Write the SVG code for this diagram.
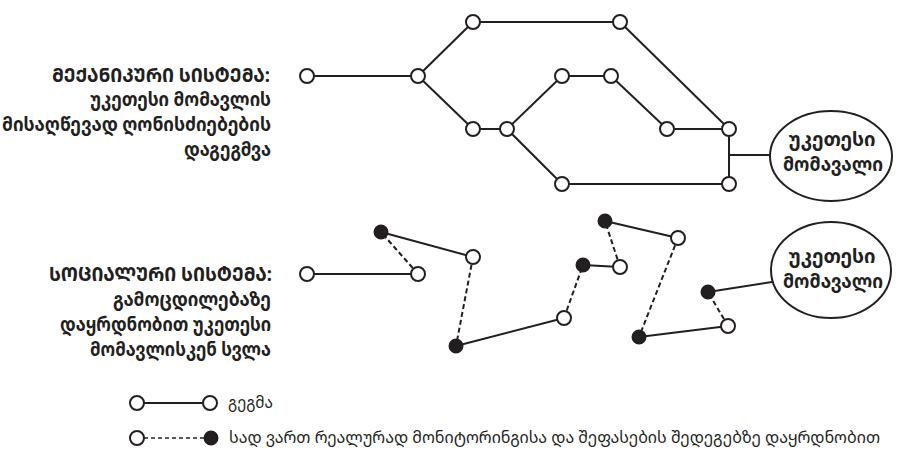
<svg xmlns="http://www.w3.org/2000/svg" width="899" height="454" viewBox="0 0 899 454">
<style>
.ln{stroke:#231f20;stroke-width:2;fill:none}
.ds{stroke:#231f20;stroke-width:2;fill:none;stroke-dasharray:5 3}
.o{fill:#fff;stroke:#231f20;stroke-width:2}
.f{fill:#231f20;stroke:#231f20;stroke-width:2}
.el{fill:#fff;stroke:#231f20;stroke-width:2}
.t{font-family:"Noto Sans Georgian","DejaVu Sans",sans-serif;fill:#231f20}
.h{font-size:19px;font-weight:bold;text-anchor:end}
.b{font-size:20px;font-weight:bold;text-anchor:end}
.e{font-size:19px;font-weight:bold;text-anchor:middle}
.lg{font-size:16px}
</style>
<rect width="899" height="454" fill="#fff"/>
<g id="label-mechanical" class="t">
<text class="h" x="270" y="82" textLength="218" lengthAdjust="spacingAndGlyphs">ᲛᲔᲥᲐᲜᲘᲙᲣᲠᲘ ᲡᲘᲡᲢᲔᲛᲐ:</text>
<text class="b" x="271" y="106" textLength="181" lengthAdjust="spacingAndGlyphs">უკეთესი მომავლის</text>
<text class="b" x="271" y="131" textLength="269" lengthAdjust="spacingAndGlyphs">მისაღწევად ღონისძიებების</text>
<text class="b" x="271" y="156" textLength="87" lengthAdjust="spacingAndGlyphs">დაგეგმვა</text>
</g>
<g id="label-social" class="t">
<text class="h" x="272" y="281" textLength="223" lengthAdjust="spacingAndGlyphs">ᲡᲝᲪᲘᲐᲚᲣᲠᲘ ᲡᲘᲡᲢᲔᲛᲐ:</text>
<text class="b" x="271" y="306" textLength="158" lengthAdjust="spacingAndGlyphs">გამოცდილებაზე</text>
<text class="b" x="271" y="331" textLength="211" lengthAdjust="spacingAndGlyphs">დაყრდნობით უკეთესი</text>
<text class="b" x="271" y="356" textLength="181" lengthAdjust="spacingAndGlyphs">მომავლისკენ სვლა</text>
</g>
<g id="connectors">
<path class="ln" d="M307 76H418M418 76L473 22M418 76L473 129H507M507 129L562 76H611M507 129L562 184H729M473 22H620L729 129M611 76L667 129H729M729 129V184M729 155H770"/>
<path class="ln" d="M307 274H418M381 232L473 257M456 346L564 318M583 265L620 267M605 221L678 238M639 337L728 326M708 292L772 282"/>
<path class="ds" d="M418 274L381 232M473 257L456 346M564 318L583 265M620 267L605 221M678 238L639 337M728 326L708 292"/>
<path class="ln" d="M137 403H210"/>
<path class="ln" d="M137 438H211" stroke-dasharray="4 3" style="stroke-width:1.5"/>
</g>
<g id="plan-nodes">
<circle class="o" cx="307" cy="76" r="7"/>
<circle class="o" cx="418" cy="76" r="7"/>
<circle class="o" cx="473" cy="22" r="7"/>
<circle class="o" cx="473" cy="129" r="7"/>
<circle class="o" cx="507" cy="129" r="7"/>
<circle class="o" cx="562" cy="76" r="7"/>
<circle class="o" cx="611" cy="76" r="7"/>
<circle class="o" cx="562" cy="184" r="7"/>
<circle class="o" cx="620" cy="22" r="7"/>
<circle class="o" cx="667" cy="129" r="7"/>
<circle class="o" cx="729" cy="129" r="7"/>
<circle class="o" cx="729" cy="184" r="7"/>
</g>
<g id="goal-top">
<ellipse class="el" cx="831" cy="156" rx="61" ry="45"/>
<text class="t e" x="832" y="146" textLength="87" lengthAdjust="spacingAndGlyphs">უკეთესი</text>
<text class="t e" x="833" y="171" textLength="100" lengthAdjust="spacingAndGlyphs">მომავალი</text>
</g>
<g id="social-nodes">
<circle class="o" cx="307" cy="274" r="7"/>
<circle class="o" cx="418" cy="274" r="7"/>
<circle class="f" cx="381" cy="232" r="6.5"/>
<circle class="o" cx="473" cy="257" r="7"/>
<circle class="f" cx="456" cy="346" r="6.5"/>
<circle class="o" cx="564" cy="318" r="7"/>
<circle class="f" cx="583" cy="265" r="6.5"/>
<circle class="f" cx="605" cy="221" r="6.5"/>
<circle class="o" cx="620" cy="267" r="7"/>
<circle class="o" cx="678" cy="238" r="7"/>
<circle class="f" cx="639" cy="337" r="6.5"/>
<circle class="o" cx="728" cy="326" r="7"/>
<circle class="f" cx="708" cy="292" r="6.5"/>
</g>
<g id="goal-bottom">
<ellipse class="el" cx="831" cy="270" rx="60" ry="48"/>
<text class="t e" x="832" y="263" textLength="87" lengthAdjust="spacingAndGlyphs">უკეთესი</text>
<text class="t e" x="833" y="288" textLength="100" lengthAdjust="spacingAndGlyphs">მომავალი</text>
</g>
<g id="legend">
<circle class="o" cx="137" cy="403" r="7"/>
<circle class="o" cx="210" cy="403" r="7"/>
<text class="t lg" x="228" y="408" textLength="45" lengthAdjust="spacingAndGlyphs">გეგმა</text>
<circle class="o" cx="137" cy="438" r="7"/>
<circle class="f" cx="211" cy="438" r="6.5"/>
<text class="t lg" x="229" y="443" textLength="651" lengthAdjust="spacingAndGlyphs">სად ვართ რეალურად მონიტორინგისა და შეფასების შედეგებზე დაყრდნობით</text>
</g>
</svg>
